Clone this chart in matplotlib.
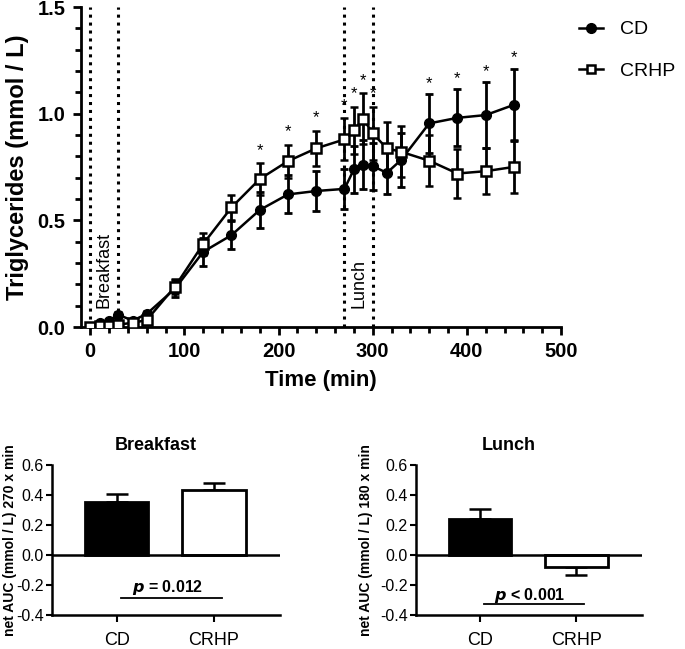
import matplotlib
matplotlib.use("Agg")
import matplotlib.pyplot as plt
from matplotlib.lines import Line2D
from matplotlib.ticker import MultipleLocator

plt.rcParams["font.family"] = ["Liberation Sans", "DejaVu Sans"]

# Curva de trigliceridos (media +/- error)
tiempo = [0, 10, 20, 30, 45, 60, 90, 120, 150, 180, 210, 240, 270, 280, 290, 300,
          315, 330, 360, 390, 420, 450]
cd = [0.0, 0.02, 0.03, 0.058, 0.03, 0.062, 0.18, 0.353, 0.431, 0.549, 0.622, 0.638,
      0.648, 0.739, 0.761, 0.755, 0.723, 0.783, 0.955, 0.981, 0.994, 1.042]
cd_err = [0.0, 0.01, 0.01, 0.015, 0.01, 0.015, 0.04, 0.066, 0.067, 0.086, 0.089, 0.093,
          0.094, 0.112, 0.115, 0.11, 0.1, 0.125, 0.137, 0.133, 0.156, 0.169]
crhp = [0.0, 0.005, 0.005, 0.012, 0.02, 0.033, 0.19, 0.39, 0.561, 0.694, 0.778, 0.838,
        0.88, 0.923, 0.977, 0.908, 0.838, 0.822, 0.78, 0.72, 0.731, 0.751]
crhp_err = [0.0, 0.005, 0.005, 0.01, 0.01, 0.015, 0.035, 0.053, 0.058, 0.073, 0.078, 0.082,
            0.098, 0.11, 0.119, 0.125, 0.125, 0.12, 0.12, 0.117, 0.109, 0.124]

# Tiempos con diferencia significativa
tiempos_cd_mayor = [360, 390, 420, 450]
tiempos_crhp_mayor = [180, 210, 240, 270, 280, 290, 300]

# Comidas (inicio, fin, etiqueta)
comidas = [(0, 30, "Breakfast"), (270, 300, "Lunch")]

# AUC neto por comida
grupos = ["CD", "CRHP"]
auc_desayuno = [0.355, 0.433]
auc_desayuno_err = [0.052, 0.049]
auc_almuerzo = [0.238, -0.078]
auc_almuerzo_err = [0.067, 0.055]

fig = plt.figure(figsize=(6.85, 6.49), dpi=100)

# ---- Panel principal ----
ax = fig.add_axes([0.118, 0.496, 0.701, 0.493])

for inicio, fin, etiqueta in comidas:
    for xv in (inicio, fin):
        ax.plot([xv, xv], [0, 1.5], color="black", lw=2.2, ls=(0, (1, 1.6)), zorder=1)
    ax.text((inicio + fin) / 2, 0.09, etiqueta, rotation=90, ha="center", va="bottom",
            fontsize=13)

ax.errorbar(tiempo, cd, yerr=cd_err, color="black", lw=1.8, marker="o", ms=7,
            mfc="black", mec="black", capsize=3, capthick=2, elinewidth=2, zorder=3)
ax.errorbar(tiempo, crhp, yerr=crhp_err, color="black", lw=1.8, marker="s", ms=7.5,
            mfc="white", mec="black", mew=1.8, capsize=3, capthick=2, elinewidth=2,
            zorder=4)

for t in tiempos_cd_mayor:
    i = tiempo.index(t)
    ax.text(t, cd[i] + cd_err[i] + 0.05, "*", ha="center", va="center", fontsize=12)
for t in tiempos_crhp_mayor:
    i = tiempo.index(t)
    ax.text(t, crhp[i] + crhp_err[i] + 0.06, "*", ha="center", va="center", fontsize=12)

ax.set_xlim(-10, 500)
ax.set_ylim(0, 1.5)
ax.xaxis.set_major_locator(MultipleLocator(100))
ax.xaxis.set_minor_locator(MultipleLocator(20))
ax.yaxis.set_major_locator(MultipleLocator(0.5))
ax.yaxis.set_minor_locator(MultipleLocator(0.1))
ax.yaxis.set_major_formatter(lambda v, p: f"{v:.1f}")
for lado in ("top", "right"):
    ax.spines[lado].set_visible(False)
for lado in ("left", "bottom"):
    ax.spines[lado].set_linewidth(2)
ax.tick_params(which="major", length=6, width=2, labelsize=14.5, pad=5)
ax.tick_params(which="minor", length=4, width=2)
for lbl in ax.get_xticklabels() + ax.get_yticklabels():
    lbl.set_fontweight("bold")
ax.set_xlabel("Time (min)", fontsize=16, fontweight="bold", labelpad=6)
ax.set_ylabel("Triglycerides (mmol / L)", fontsize=17, fontweight="bold", labelpad=6)

manejadores = [
    Line2D([], [], color="black", lw=1.8, marker="o", ms=7, mfc="black"),
    Line2D([], [], color="black", lw=1.8, marker="s", ms=6, mfc="white", mew=1.8),
]
fig.legend(manejadores, ["CD", "CRHP"], loc="upper left", bbox_to_anchor=(0.82, 0.995),
           frameon=False, fontsize=14, handlelength=1.2, handletextpad=0.9,
           labelspacing=1.25)


# ---- Paneles de AUC ----
def panel_auc(posicion, valores, errores, titulo, x_titulo, etiqueta_y, x_etiqueta_y,
              texto_p, y_linea_p, y_texto_p):
    eje = fig.add_axes(posicion)
    x = list(range(len(grupos)))
    colores = ["black", "white"]
    for xi, v, e, c in zip(x, valores, errores, colores):
        eje.bar(xi, v, width=0.65, color=c, edgecolor="black", linewidth=2, zorder=2)
        signo = 1 if v >= 0 else -1
        eje.errorbar(xi, v, yerr=[[0], [e]] if signo > 0 else [[e], [0]], color="black",
                     capsize=8, capthick=1.8, elinewidth=1.8, fmt="none", zorder=1)
    eje.axhline(0, color="black", lw=1.8, zorder=3)
    eje.plot([0.04, 1.08], [y_linea_p, y_linea_p], color="black", lw=1.3)
    eje.text(0.52, y_texto_p, texto_p, ha="center", va="center", fontsize=11.5,
             fontweight="bold")
    eje.text(x_titulo, 0.73, titulo, ha="center", va="center", fontsize=13,
             fontweight="bold")
    eje.set_xlim(-0.665, 1.68)
    eje.set_ylim(-0.4, 0.6)
    eje.set_xticks(x)
    eje.set_xticklabels(grupos, fontsize=13)
    eje.yaxis.set_major_locator(MultipleLocator(0.2))
    eje.yaxis.set_major_formatter(lambda v, p: f"{v:.1f}")
    for lado in ("top", "right"):
        eje.spines[lado].set_visible(False)
    for lado in ("left", "bottom"):
        eje.spines[lado].set_linewidth(1.8)
    eje.tick_params(axis="y", length=4, width=1.5, labelsize=11.5, pad=2)
    eje.tick_params(axis="x", length=5, width=1.5, pad=7)
    eje.set_ylabel(etiqueta_y, fontsize=10, fontweight="bold")
    eje.yaxis.set_label_coords(x_etiqueta_y, 0.5)
    return eje


panel_auc([0.0759, 0.0524, 0.333, 0.2311], auc_desayuno, auc_desayuno_err,
          "Breakfast", 0.4, "net AUC (mmol / L) 270 x min", -0.155,
          r"$\bfit{p}$ = 0.012", -0.285, -0.22)
panel_auc([0.6073, 0.0524, 0.3295, 0.2311], auc_almuerzo, auc_almuerzo_err,
          "Lunch", 0.3, "net AUC (mmol / L) 180 x min", -0.19,
          r"$\bfit{p}$ < 0.001", -0.329, -0.273)

fig.savefig("out.png", dpi=100)
